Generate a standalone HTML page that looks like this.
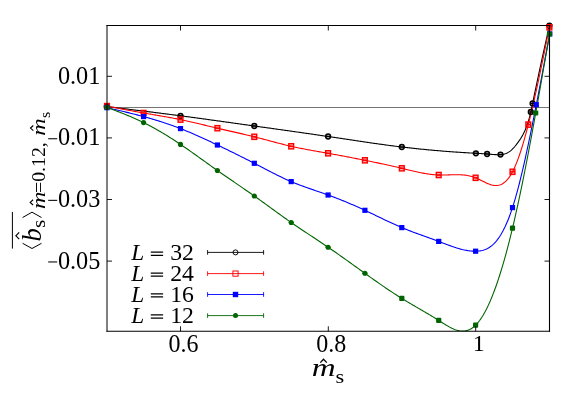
<!DOCTYPE html>
<html><head><meta charset="utf-8"><title>chart</title>
<style>html,body{margin:0;padding:0;background:#fff;}svg{display:block;}text{font-family:"Liberation Serif",serif;fill:#000;}.i{font-style:italic;}</style></head><body>
<svg width="581" height="407" viewBox="0 0 581 407" style="will-change:transform">
<rect x="0" y="0" width="581" height="407" fill="#ffffff"/>
<defs><clipPath id="clip"><rect x="103.00" y="21.50" width="450.50" height="310.10"/></clipPath></defs>
<path d="M107.00,107.50 H549.50" stroke="#000" stroke-width="0.55" fill="none"/>
<g clip-path="url(#clip)" fill="none">
<path d="M106.75,106.60 L107.86,106.73 L108.97,106.87 L110.08,107.00 L111.19,107.14 L112.30,107.27 L113.41,107.41 L114.52,107.54 L115.63,107.68 L116.73,107.81 L117.84,107.95 L118.95,108.08 L120.06,108.21 L121.17,108.35 L122.28,108.48 L123.39,108.62 L124.50,108.75 L125.61,108.89 L126.72,109.03 L127.83,109.16 L128.94,109.30 L130.05,109.43 L131.16,109.57 L132.27,109.70 L133.38,109.84 L134.48,109.98 L135.59,110.11 L136.70,110.25 L137.81,110.38 L138.92,110.52 L140.03,110.66 L141.14,110.79 L142.25,110.93 L143.36,111.07 L144.47,111.21 L145.58,111.34 L146.69,111.48 L147.80,111.62 L148.91,111.76 L150.02,111.90 L151.13,112.04 L152.24,112.17 L153.34,112.31 L154.45,112.45 L155.56,112.59 L156.67,112.73 L157.78,112.87 L158.89,113.01 L160.00,113.15 L161.11,113.29 L162.22,113.43 L163.33,113.58 L164.44,113.72 L165.55,113.86 L166.66,114.00 L167.77,114.14 L168.88,114.29 L169.99,114.43 L171.10,114.57 L172.20,114.72 L173.31,114.86 L174.42,115.00 L175.53,115.15 L176.64,115.29 L177.75,115.44 L178.86,115.58 L179.97,115.73 L181.08,115.88 L182.19,116.02 L183.30,116.17 L184.41,116.32 L185.52,116.47 L186.63,116.61 L187.74,116.76 L188.85,116.91 L189.95,117.06 L191.06,117.21 L192.17,117.36 L193.28,117.51 L194.39,117.66 L195.50,117.81 L196.61,117.96 L197.72,118.11 L198.83,118.26 L199.94,118.41 L201.05,118.56 L202.16,118.72 L203.27,118.87 L204.38,119.02 L205.49,119.17 L206.60,119.32 L207.71,119.48 L208.81,119.63 L209.92,119.78 L211.03,119.94 L212.14,120.09 L213.25,120.25 L214.36,120.40 L215.47,120.55 L216.58,120.71 L217.69,120.86 L218.80,121.02 L219.91,121.17 L221.02,121.33 L222.13,121.48 L223.24,121.64 L224.35,121.79 L225.46,121.95 L226.57,122.10 L227.67,122.26 L228.78,122.41 L229.89,122.57 L231.00,122.73 L232.11,122.88 L233.22,123.04 L234.33,123.19 L235.44,123.35 L236.55,123.50 L237.66,123.66 L238.77,123.82 L239.88,123.97 L240.99,124.13 L242.10,124.29 L243.21,124.44 L244.32,124.60 L245.42,124.75 L246.53,124.91 L247.64,125.07 L248.75,125.22 L249.86,125.38 L250.97,125.53 L252.08,125.69 L253.19,125.84 L254.30,126.00 L255.41,126.16 L256.52,126.31 L257.63,126.47 L258.74,126.62 L259.85,126.78 L260.96,126.93 L262.07,127.09 L263.18,127.24 L264.28,127.40 L265.39,127.55 L266.50,127.71 L267.61,127.86 L268.72,128.02 L269.83,128.17 L270.94,128.33 L272.05,128.48 L273.16,128.64 L274.27,128.80 L275.38,128.95 L276.49,129.11 L277.60,129.26 L278.71,129.42 L279.82,129.57 L280.93,129.73 L282.03,129.88 L283.14,130.04 L284.25,130.20 L285.36,130.35 L286.47,130.51 L287.58,130.66 L288.69,130.82 L289.80,130.98 L290.91,131.13 L292.02,131.29 L293.13,131.45 L294.24,131.60 L295.35,131.76 L296.46,131.92 L297.57,132.08 L298.68,132.23 L299.79,132.39 L300.89,132.55 L302.00,132.71 L303.11,132.87 L304.22,133.02 L305.33,133.18 L306.44,133.34 L307.55,133.50 L308.66,133.66 L309.77,133.82 L310.88,133.98 L311.99,134.14 L313.10,134.30 L314.21,134.46 L315.32,134.62 L316.43,134.78 L317.54,134.95 L318.65,135.11 L319.75,135.27 L320.86,135.43 L321.97,135.60 L323.08,135.76 L324.19,135.92 L325.30,136.09 L326.41,136.25 L327.52,136.41 L328.63,136.58 L329.74,136.74 L330.85,136.91 L331.96,137.07 L333.07,137.24 L334.18,137.41 L335.29,137.57 L336.40,137.74 L337.50,137.91 L338.61,138.07 L339.72,138.24 L340.83,138.41 L341.94,138.57 L343.05,138.74 L344.16,138.91 L345.27,139.08 L346.38,139.24 L347.49,139.41 L348.60,139.58 L349.71,139.74 L350.82,139.91 L351.93,140.08 L353.04,140.24 L354.15,140.41 L355.26,140.58 L356.36,140.74 L357.47,140.91 L358.58,141.07 L359.69,141.24 L360.80,141.40 L361.91,141.57 L363.02,141.73 L364.13,141.89 L365.24,142.05 L366.35,142.22 L367.46,142.38 L368.57,142.54 L369.68,142.70 L370.79,142.86 L371.90,143.02 L373.01,143.18 L374.12,143.34 L375.22,143.49 L376.33,143.65 L377.44,143.81 L378.55,143.96 L379.66,144.12 L380.77,144.27 L381.88,144.42 L382.99,144.58 L384.10,144.73 L385.21,144.88 L386.32,145.03 L387.43,145.18 L388.54,145.32 L389.65,145.47 L390.76,145.61 L391.87,145.76 L392.97,145.90 L394.08,146.04 L395.19,146.18 L396.30,146.32 L397.41,146.46 L398.52,146.60 L399.63,146.74 L400.74,146.87 L401.85,147.01 L402.96,147.14 L404.07,147.27 L405.18,147.40 L406.29,147.53 L407.40,147.66 L408.51,147.78 L409.62,147.91 L410.73,148.03 L411.83,148.15 L412.94,148.27 L414.05,148.39 L415.16,148.51 L416.27,148.63 L417.38,148.74 L418.49,148.86 L419.60,148.97 L420.71,149.09 L421.82,149.20 L422.93,149.31 L424.04,149.42 L425.15,149.52 L426.26,149.63 L427.37,149.74 L428.48,149.84 L429.58,149.94 L430.69,150.05 L431.80,150.15 L432.91,150.25 L434.02,150.34 L435.13,150.44 L436.24,150.54 L437.35,150.63 L438.46,150.73 L439.57,150.82 L440.68,150.91 L441.79,151.00 L442.90,151.09 L444.01,151.18 L445.12,151.27 L446.23,151.36 L447.34,151.44 L448.44,151.53 L449.55,151.61 L450.66,151.69 L451.77,151.77 L452.88,151.85 L453.99,151.93 L455.10,152.01 L456.21,152.09 L457.32,152.16 L458.43,152.24 L459.54,152.31 L460.65,152.39 L461.76,152.46 L462.87,152.53 L463.98,152.60 L465.09,152.67 L466.20,152.74 L467.30,152.81 L468.41,152.87 L469.52,152.94 L470.63,153.00 L471.74,153.07 L472.85,153.13 L473.96,153.19 L475.07,153.25 L476.18,153.32 L477.29,153.37 L478.40,153.43 L479.51,153.50 L480.62,153.56 L481.73,153.62 L482.84,153.69 L483.95,153.76 L485.05,153.84 L486.16,153.92 L487.27,154.01 L488.38,154.11 L489.49,154.21 L490.60,154.31 L491.71,154.40 L492.82,154.49 L493.93,154.57 L495.04,154.63 L496.15,154.67 L497.26,154.69 L498.37,154.69 L499.48,154.66 L500.59,154.59 L501.70,154.49 L502.81,154.34 L503.91,154.12 L505.02,153.83 L506.13,153.46 L507.24,152.98 L508.35,152.39 L509.46,151.67 L510.57,150.82 L511.68,149.84 L512.79,148.73 L513.90,147.53 L515.01,146.24 L516.12,144.87 L517.23,143.43 L518.34,141.94 L519.45,140.37 L520.56,138.69 L521.67,136.89 L522.77,134.92 L523.88,132.78 L524.99,130.43 L526.10,127.81 L527.21,124.86 L528.32,121.49 L529.43,117.61 L530.54,113.14 L531.65,108.05 L532.76,102.62 L533.87,97.21 L534.98,91.85 L536.09,86.55 L537.20,81.29 L538.31,76.09 L539.42,70.92 L540.52,65.79 L541.63,60.70 L542.74,55.63 L543.85,50.59 L544.96,45.56 L546.07,40.56 L547.18,35.57 L548.29,30.58 L549.40,25.60" stroke="#000000" stroke-width="1.1" fill="none"/>
<path d="M107.00,106.10 L108.11,106.32 L109.22,106.53 L110.33,106.75 L111.44,106.97 L112.54,107.18 L113.65,107.40 L114.76,107.61 L115.87,107.83 L116.98,108.04 L118.09,108.26 L119.20,108.47 L120.31,108.69 L121.41,108.90 L122.52,109.11 L123.63,109.32 L124.74,109.54 L125.85,109.75 L126.96,109.96 L128.07,110.17 L129.18,110.37 L130.28,110.58 L131.39,110.79 L132.50,111.00 L133.61,111.20 L134.72,111.40 L135.83,111.61 L136.94,111.81 L138.05,112.01 L139.15,112.21 L140.26,112.41 L141.37,112.61 L142.48,112.80 L143.59,113.00 L144.70,113.19 L145.81,113.38 L146.92,113.58 L148.02,113.77 L149.13,113.96 L150.24,114.14 L151.35,114.33 L152.46,114.52 L153.57,114.71 L154.68,114.90 L155.79,115.09 L156.89,115.27 L158.00,115.46 L159.11,115.65 L160.22,115.84 L161.33,116.03 L162.44,116.22 L163.55,116.42 L164.66,116.61 L165.76,116.80 L166.87,117.00 L167.98,117.20 L169.09,117.40 L170.20,117.60 L171.31,117.81 L172.42,118.01 L173.53,118.22 L174.64,118.43 L175.74,118.65 L176.85,118.86 L177.96,119.08 L179.07,119.31 L180.18,119.53 L181.29,119.76 L182.40,120.00 L183.51,120.23 L184.61,120.47 L185.72,120.71 L186.83,120.96 L187.94,121.21 L189.05,121.46 L190.16,121.71 L191.27,121.96 L192.38,122.22 L193.48,122.48 L194.59,122.73 L195.70,123.00 L196.81,123.26 L197.92,123.52 L199.03,123.79 L200.14,124.05 L201.25,124.32 L202.35,124.59 L203.46,124.85 L204.57,125.12 L205.68,125.39 L206.79,125.66 L207.90,125.93 L209.01,126.20 L210.12,126.46 L211.22,126.73 L212.33,127.00 L213.44,127.26 L214.55,127.53 L215.66,127.79 L216.77,128.05 L217.88,128.31 L218.99,128.57 L220.09,128.83 L221.20,129.09 L222.31,129.34 L223.42,129.60 L224.53,129.85 L225.64,130.10 L226.75,130.35 L227.86,130.61 L228.96,130.86 L230.07,131.11 L231.18,131.36 L232.29,131.61 L233.40,131.86 L234.51,132.12 L235.62,132.37 L236.73,132.62 L237.84,132.87 L238.94,133.13 L240.05,133.38 L241.16,133.64 L242.27,133.90 L243.38,134.16 L244.49,134.42 L245.60,134.68 L246.71,134.94 L247.81,135.21 L248.92,135.47 L250.03,135.74 L251.14,136.01 L252.25,136.29 L253.36,136.56 L254.47,136.84 L255.58,137.12 L256.68,137.41 L257.79,137.69 L258.90,137.98 L260.01,138.27 L261.12,138.56 L262.23,138.85 L263.34,139.15 L264.45,139.44 L265.55,139.74 L266.66,140.04 L267.77,140.33 L268.88,140.63 L269.99,140.93 L271.10,141.22 L272.21,141.52 L273.32,141.81 L274.42,142.11 L275.53,142.40 L276.64,142.69 L277.75,142.98 L278.86,143.27 L279.97,143.56 L281.08,143.84 L282.19,144.12 L283.29,144.40 L284.40,144.68 L285.51,144.95 L286.62,145.22 L287.73,145.49 L288.84,145.75 L289.95,146.01 L291.06,146.27 L292.16,146.52 L293.27,146.77 L294.38,147.01 L295.49,147.25 L296.60,147.48 L297.71,147.71 L298.82,147.94 L299.93,148.17 L301.04,148.39 L302.14,148.61 L303.25,148.83 L304.36,149.04 L305.47,149.25 L306.58,149.46 L307.69,149.67 L308.80,149.87 L309.91,150.08 L311.01,150.28 L312.12,150.48 L313.23,150.68 L314.34,150.88 L315.45,151.07 L316.56,151.27 L317.67,151.47 L318.78,151.66 L319.88,151.85 L320.99,152.05 L322.10,152.24 L323.21,152.44 L324.32,152.63 L325.43,152.83 L326.54,153.02 L327.65,153.22 L328.75,153.42 L329.86,153.61 L330.97,153.81 L332.08,154.01 L333.19,154.21 L334.30,154.42 L335.41,154.62 L336.52,154.82 L337.62,155.03 L338.73,155.23 L339.84,155.44 L340.95,155.65 L342.06,155.85 L343.17,156.06 L344.28,156.27 L345.39,156.48 L346.49,156.69 L347.60,156.91 L348.71,157.12 L349.82,157.33 L350.93,157.55 L352.04,157.76 L353.15,157.98 L354.26,158.19 L355.36,158.41 L356.47,158.63 L357.58,158.84 L358.69,159.06 L359.80,159.28 L360.91,159.50 L362.02,159.72 L363.13,159.94 L364.24,160.17 L365.34,160.39 L366.45,160.61 L367.56,160.84 L368.67,161.06 L369.78,161.29 L370.89,161.51 L372.00,161.74 L373.11,161.97 L374.21,162.19 L375.32,162.42 L376.43,162.65 L377.54,162.89 L378.65,163.12 L379.76,163.35 L380.87,163.59 L381.98,163.82 L383.08,164.06 L384.19,164.30 L385.30,164.54 L386.41,164.78 L387.52,165.02 L388.63,165.27 L389.74,165.51 L390.85,165.76 L391.95,166.01 L393.06,166.26 L394.17,166.51 L395.28,166.77 L396.39,167.02 L397.50,167.28 L398.61,167.54 L399.72,167.80 L400.82,168.07 L401.93,168.33 L403.04,168.60 L404.15,168.87 L405.26,169.14 L406.37,169.41 L407.48,169.68 L408.59,169.95 L409.69,170.22 L410.80,170.49 L411.91,170.75 L413.02,171.01 L414.13,171.27 L415.24,171.52 L416.35,171.77 L417.46,172.02 L418.56,172.26 L419.67,172.49 L420.78,172.72 L421.89,172.94 L423.00,173.15 L424.11,173.35 L425.22,173.54 L426.33,173.73 L427.44,173.91 L428.54,174.07 L429.65,174.22 L430.76,174.37 L431.87,174.50 L432.98,174.61 L434.09,174.72 L435.20,174.81 L436.31,174.89 L437.41,174.95 L438.52,174.99 L439.63,175.02 L440.74,175.04 L441.85,175.04 L442.96,175.04 L444.07,175.02 L445.18,175.00 L446.28,174.97 L447.39,174.93 L448.50,174.89 L449.61,174.85 L450.72,174.82 L451.83,174.78 L452.94,174.75 L454.05,174.72 L455.15,174.71 L456.26,174.70 L457.37,174.70 L458.48,174.72 L459.59,174.74 L460.70,174.79 L461.81,174.85 L462.92,174.94 L464.02,175.04 L465.13,175.17 L466.24,175.32 L467.35,175.49 L468.46,175.70 L469.57,175.93 L470.68,176.20 L471.79,176.50 L472.89,176.83 L474.00,177.20 L475.11,177.61 L476.22,178.06 L477.33,178.54 L478.44,179.05 L479.55,179.59 L480.66,180.14 L481.76,180.70 L482.87,181.26 L483.98,181.82 L485.09,182.36 L486.20,182.88 L487.31,183.38 L488.42,183.84 L489.53,184.26 L490.64,184.63 L491.74,184.95 L492.85,185.21 L493.96,185.40 L495.07,185.51 L496.18,185.54 L497.29,185.47 L498.40,185.32 L499.51,185.05 L500.61,184.68 L501.72,184.19 L502.83,183.57 L503.94,182.82 L505.05,181.93 L506.16,180.89 L507.27,179.70 L508.38,178.35 L509.48,176.83 L510.59,175.14 L511.70,173.27 L512.81,171.20 L513.92,168.95 L515.03,166.51 L516.14,163.88 L517.25,161.08 L518.35,158.11 L519.46,154.97 L520.57,151.67 L521.68,148.21 L522.79,144.60 L523.90,140.85 L525.01,136.95 L526.12,132.92 L527.22,128.76 L528.33,124.47 L529.44,120.06 L530.55,115.54 L531.66,110.90 L532.77,106.17 L533.88,101.34 L534.99,96.43 L536.09,91.43 L537.20,86.35 L538.31,81.20 L539.42,75.99 L540.53,70.73 L541.64,65.41 L542.75,60.05 L543.86,54.65 L544.96,49.22 L546.07,43.76 L547.18,38.28 L548.29,32.80 L549.40,27.30" stroke="#ff0000" stroke-width="1.1" fill="none"/>
<path d="M107.00,107.70 L108.11,107.95 L109.22,108.21 L110.33,108.46 L111.44,108.72 L112.55,108.97 L113.66,109.23 L114.77,109.48 L115.88,109.74 L116.99,110.00 L118.10,110.26 L119.21,110.51 L120.32,110.77 L121.43,111.04 L122.54,111.30 L123.65,111.56 L124.76,111.83 L125.87,112.09 L126.98,112.36 L128.09,112.63 L129.20,112.90 L130.31,113.17 L131.42,113.45 L132.52,113.72 L133.63,114.00 L134.74,114.28 L135.85,114.56 L136.96,114.85 L138.07,115.13 L139.18,115.42 L140.29,115.71 L141.40,116.01 L142.51,116.31 L143.62,116.61 L144.73,116.91 L145.84,117.21 L146.95,117.52 L148.06,117.84 L149.17,118.15 L150.28,118.47 L151.39,118.79 L152.50,119.11 L153.61,119.44 L154.72,119.77 L155.83,120.11 L156.94,120.45 L158.05,120.79 L159.16,121.14 L160.27,121.49 L161.38,121.84 L162.49,122.20 L163.60,122.56 L164.71,122.92 L165.82,123.29 L166.93,123.67 L168.04,124.04 L169.15,124.43 L170.26,124.81 L171.37,125.20 L172.48,125.60 L173.59,126.00 L174.70,126.41 L175.81,126.81 L176.92,127.23 L178.03,127.65 L179.14,128.07 L180.25,128.50 L181.35,128.93 L182.46,129.37 L183.57,129.82 L184.68,130.27 L185.79,130.72 L186.90,131.18 L188.01,131.64 L189.12,132.10 L190.23,132.57 L191.34,133.05 L192.45,133.53 L193.56,134.01 L194.67,134.49 L195.78,134.98 L196.89,135.47 L198.00,135.97 L199.11,136.46 L200.22,136.97 L201.33,137.47 L202.44,137.98 L203.55,138.48 L204.66,139.00 L205.77,139.51 L206.88,140.03 L207.99,140.54 L209.10,141.06 L210.21,141.58 L211.32,142.11 L212.43,142.63 L213.54,143.16 L214.65,143.69 L215.76,144.22 L216.87,144.75 L217.98,145.28 L219.09,145.81 L220.20,146.34 L221.31,146.87 L222.42,147.41 L223.53,147.94 L224.64,148.48 L225.75,149.02 L226.86,149.56 L227.97,150.10 L229.08,150.64 L230.18,151.18 L231.29,151.72 L232.40,152.27 L233.51,152.81 L234.62,153.36 L235.73,153.91 L236.84,154.46 L237.95,155.01 L239.06,155.56 L240.17,156.12 L241.28,156.67 L242.39,157.23 L243.50,157.79 L244.61,158.34 L245.72,158.91 L246.83,159.47 L247.94,160.03 L249.05,160.60 L250.16,161.17 L251.27,161.74 L252.38,162.31 L253.49,162.88 L254.60,163.46 L255.71,164.03 L256.82,164.61 L257.93,165.19 L259.04,165.77 L260.15,166.35 L261.26,166.93 L262.37,167.51 L263.48,168.09 L264.59,168.67 L265.70,169.25 L266.81,169.82 L267.92,170.40 L269.03,170.97 L270.14,171.55 L271.25,172.12 L272.36,172.68 L273.47,173.25 L274.58,173.81 L275.69,174.36 L276.80,174.92 L277.91,175.46 L279.02,176.01 L280.12,176.55 L281.23,177.08 L282.34,177.61 L283.45,178.13 L284.56,178.65 L285.67,179.16 L286.78,179.66 L287.89,180.16 L289.00,180.65 L290.11,181.13 L291.22,181.61 L292.33,182.08 L293.44,182.54 L294.55,182.99 L295.66,183.43 L296.77,183.87 L297.88,184.30 L298.99,184.73 L300.10,185.15 L301.21,185.57 L302.32,185.98 L303.43,186.38 L304.54,186.78 L305.65,187.18 L306.76,187.58 L307.87,187.97 L308.98,188.36 L310.09,188.74 L311.20,189.13 L312.31,189.51 L313.42,189.89 L314.53,190.28 L315.64,190.66 L316.75,191.04 L317.86,191.42 L318.97,191.80 L320.08,192.18 L321.19,192.56 L322.30,192.95 L323.41,193.33 L324.52,193.72 L325.63,194.12 L326.74,194.51 L327.85,194.91 L328.95,195.31 L330.06,195.72 L331.17,196.12 L332.28,196.54 L333.39,196.95 L334.50,197.38 L335.61,197.80 L336.72,198.23 L337.83,198.66 L338.94,199.10 L340.05,199.53 L341.16,199.98 L342.27,200.42 L343.38,200.87 L344.49,201.33 L345.60,201.79 L346.71,202.25 L347.82,202.71 L348.93,203.18 L350.04,203.65 L351.15,204.13 L352.26,204.60 L353.37,205.09 L354.48,205.57 L355.59,206.06 L356.70,206.55 L357.81,207.05 L358.92,207.55 L360.03,208.05 L361.14,208.56 L362.25,209.07 L363.36,209.58 L364.47,210.10 L365.58,210.62 L366.69,211.14 L367.80,211.67 L368.91,212.19 L370.02,212.72 L371.13,213.26 L372.24,213.79 L373.35,214.33 L374.46,214.86 L375.57,215.40 L376.68,215.94 L377.78,216.48 L378.89,217.01 L380.00,217.55 L381.11,218.09 L382.22,218.62 L383.33,219.16 L384.44,219.69 L385.55,220.22 L386.66,220.75 L387.77,221.28 L388.88,221.80 L389.99,222.32 L391.10,222.84 L392.21,223.36 L393.32,223.87 L394.43,224.37 L395.54,224.87 L396.65,225.37 L397.76,225.86 L398.87,226.35 L399.98,226.83 L401.09,227.30 L402.20,227.77 L403.31,228.23 L404.42,228.68 L405.53,229.13 L406.64,229.58 L407.75,230.02 L408.86,230.45 L409.97,230.88 L411.08,231.31 L412.19,231.73 L413.30,232.15 L414.41,232.56 L415.52,232.97 L416.63,233.38 L417.74,233.79 L418.85,234.19 L419.96,234.59 L421.07,235.00 L422.18,235.39 L423.29,235.79 L424.40,236.19 L425.51,236.59 L426.62,236.99 L427.72,237.38 L428.83,237.78 L429.94,238.18 L431.05,238.58 L432.16,238.99 L433.27,239.39 L434.38,239.80 L435.49,240.20 L436.60,240.61 L437.71,241.03 L438.82,241.45 L439.93,241.87 L441.04,242.29 L442.15,242.71 L443.26,243.14 L444.37,243.56 L445.48,243.99 L446.59,244.41 L447.70,244.82 L448.81,245.24 L449.92,245.64 L451.03,246.04 L452.14,246.44 L453.25,246.82 L454.36,247.20 L455.47,247.56 L456.58,247.92 L457.69,248.26 L458.80,248.58 L459.91,248.90 L461.02,249.19 L462.13,249.47 L463.24,249.74 L464.35,249.98 L465.46,250.21 L466.57,250.41 L467.68,250.60 L468.79,250.76 L469.90,250.90 L471.01,251.01 L472.12,251.10 L473.23,251.16 L474.34,251.20 L475.45,251.20 L476.55,251.18 L477.66,251.12 L478.77,251.03 L479.88,250.89 L480.99,250.71 L482.10,250.47 L483.21,250.18 L484.32,249.84 L485.43,249.42 L486.54,248.94 L487.65,248.39 L488.76,247.76 L489.87,247.04 L490.98,246.25 L492.09,245.36 L493.20,244.37 L494.31,243.29 L495.42,242.11 L496.53,240.81 L497.64,239.41 L498.75,237.88 L499.86,236.24 L500.97,234.47 L502.08,232.57 L503.19,230.54 L504.30,228.37 L505.41,226.05 L506.52,223.59 L507.63,220.98 L508.74,218.21 L509.85,215.28 L510.96,212.18 L512.07,208.92 L513.18,205.48 L514.29,201.87 L515.40,198.10 L516.51,194.17 L517.62,190.08 L518.73,185.85 L519.84,181.49 L520.95,176.99 L522.06,172.36 L523.17,167.62 L524.28,162.76 L525.38,157.79 L526.49,152.73 L527.60,147.58 L528.71,142.33 L529.82,137.01 L530.93,131.62 L532.04,126.15 L533.15,120.63 L534.26,115.05 L535.37,109.43 L536.48,103.76 L537.59,98.07 L538.70,92.33 L539.81,86.57 L540.92,80.79 L542.03,74.98 L543.14,69.15 L544.25,63.30 L545.36,57.44 L546.47,51.56 L547.58,45.68 L548.69,39.79 L549.80,33.90" stroke="#0000ff" stroke-width="1.1" fill="none"/>
<path d="M107.00,107.40 L108.11,107.82 L109.22,108.24 L110.33,108.66 L111.44,109.08 L112.55,109.50 L113.65,109.92 L114.76,110.34 L115.87,110.77 L116.98,111.19 L118.09,111.62 L119.20,112.05 L120.31,112.49 L121.42,112.92 L122.53,113.36 L123.64,113.81 L124.74,114.25 L125.85,114.70 L126.96,115.16 L128.07,115.62 L129.18,116.08 L130.29,116.55 L131.40,117.02 L132.51,117.50 L133.62,117.98 L134.73,118.47 L135.83,118.96 L136.94,119.46 L138.05,119.97 L139.16,120.48 L140.27,121.00 L141.38,121.52 L142.49,122.06 L143.60,122.60 L144.71,123.15 L145.82,123.70 L146.92,124.27 L148.03,124.84 L149.14,125.42 L150.25,126.00 L151.36,126.59 L152.47,127.19 L153.58,127.80 L154.69,128.41 L155.80,129.03 L156.91,129.66 L158.02,130.29 L159.12,130.93 L160.23,131.58 L161.34,132.23 L162.45,132.89 L163.56,133.56 L164.67,134.23 L165.78,134.90 L166.89,135.59 L168.00,136.27 L169.11,136.97 L170.21,137.67 L171.32,138.37 L172.43,139.08 L173.54,139.80 L174.65,140.52 L175.76,141.24 L176.87,141.97 L177.98,142.71 L179.09,143.45 L180.20,144.19 L181.30,144.94 L182.41,145.70 L183.52,146.46 L184.63,147.22 L185.74,147.98 L186.85,148.75 L187.96,149.53 L189.07,150.30 L190.18,151.08 L191.29,151.86 L192.39,152.65 L193.50,153.43 L194.61,154.22 L195.72,155.01 L196.83,155.80 L197.94,156.60 L199.05,157.39 L200.16,158.19 L201.27,158.98 L202.38,159.78 L203.48,160.57 L204.59,161.37 L205.70,162.17 L206.81,162.96 L207.92,163.76 L209.03,164.55 L210.14,165.35 L211.25,166.14 L212.36,166.93 L213.47,167.72 L214.58,168.51 L215.68,169.29 L216.79,170.07 L217.90,170.85 L219.01,171.63 L220.12,172.40 L221.23,173.18 L222.34,173.95 L223.45,174.72 L224.56,175.48 L225.67,176.25 L226.77,177.01 L227.88,177.77 L228.99,178.53 L230.10,179.30 L231.21,180.05 L232.32,180.81 L233.43,181.57 L234.54,182.33 L235.65,183.09 L236.76,183.85 L237.86,184.61 L238.97,185.37 L240.08,186.13 L241.19,186.89 L242.30,187.65 L243.41,188.41 L244.52,189.18 L245.63,189.94 L246.74,190.71 L247.85,191.48 L248.95,192.25 L250.06,193.02 L251.17,193.80 L252.28,194.58 L253.39,195.36 L254.50,196.14 L255.61,196.93 L256.72,197.72 L257.83,198.51 L258.94,199.31 L260.05,200.10 L261.15,200.90 L262.26,201.70 L263.37,202.50 L264.48,203.31 L265.59,204.11 L266.70,204.92 L267.81,205.72 L268.92,206.53 L270.03,207.34 L271.14,208.14 L272.24,208.95 L273.35,209.76 L274.46,210.56 L275.57,211.37 L276.68,212.17 L277.79,212.97 L278.90,213.77 L280.01,214.57 L281.12,215.37 L282.23,216.17 L283.33,216.96 L284.44,217.75 L285.55,218.54 L286.66,219.32 L287.77,220.10 L288.88,220.88 L289.99,221.66 L291.10,222.43 L292.21,223.20 L293.32,223.96 L294.42,224.72 L295.53,225.48 L296.64,226.23 L297.75,226.98 L298.86,227.73 L299.97,228.47 L301.08,229.22 L302.19,229.96 L303.30,230.70 L304.41,231.43 L305.52,232.17 L306.62,232.90 L307.73,233.64 L308.84,234.37 L309.95,235.10 L311.06,235.84 L312.17,236.57 L313.28,237.30 L314.39,238.03 L315.50,238.77 L316.61,239.50 L317.71,240.23 L318.82,240.97 L319.93,241.71 L321.04,242.45 L322.15,243.19 L323.26,243.93 L324.37,244.67 L325.48,245.42 L326.59,246.17 L327.70,246.92 L328.80,247.68 L329.91,248.44 L331.02,249.20 L332.13,249.97 L333.24,250.74 L334.35,251.51 L335.46,252.28 L336.57,253.05 L337.68,253.83 L338.79,254.61 L339.89,255.39 L341.00,256.18 L342.11,256.96 L343.22,257.75 L344.33,258.54 L345.44,259.33 L346.55,260.12 L347.66,260.91 L348.77,261.71 L349.88,262.50 L350.98,263.30 L352.09,264.09 L353.20,264.89 L354.31,265.69 L355.42,266.49 L356.53,267.28 L357.64,268.08 L358.75,268.88 L359.86,269.68 L360.97,270.48 L362.08,271.27 L363.18,272.07 L364.29,272.86 L365.40,273.66 L366.51,274.45 L367.62,275.25 L368.73,276.04 L369.84,276.83 L370.95,277.62 L372.06,278.41 L373.17,279.19 L374.27,279.98 L375.38,280.76 L376.49,281.54 L377.60,282.32 L378.71,283.09 L379.82,283.86 L380.93,284.63 L382.04,285.40 L383.15,286.16 L384.26,286.92 L385.36,287.68 L386.47,288.43 L387.58,289.18 L388.69,289.93 L389.80,290.67 L390.91,291.41 L392.02,292.14 L393.13,292.87 L394.24,293.59 L395.35,294.31 L396.45,295.03 L397.56,295.74 L398.67,296.44 L399.78,297.14 L400.89,297.84 L402.00,298.52 L403.11,299.21 L404.22,299.88 L405.33,300.56 L406.44,301.23 L407.55,301.89 L408.65,302.55 L409.76,303.21 L410.87,303.86 L411.98,304.51 L413.09,305.16 L414.20,305.81 L415.31,306.45 L416.42,307.10 L417.53,307.74 L418.64,308.39 L419.74,309.03 L420.85,309.67 L421.96,310.32 L423.07,310.96 L424.18,311.61 L425.29,312.26 L426.40,312.91 L427.51,313.57 L428.62,314.22 L429.73,314.88 L430.83,315.55 L431.94,316.22 L433.05,316.89 L434.16,317.57 L435.27,318.25 L436.38,318.94 L437.49,319.63 L438.60,320.34 L439.71,321.04 L440.82,321.75 L441.92,322.46 L443.03,323.17 L444.14,323.87 L445.25,324.56 L446.36,325.23 L447.47,325.89 L448.58,326.52 L449.69,327.13 L450.80,327.70 L451.91,328.25 L453.02,328.76 L454.12,329.23 L455.23,329.65 L456.34,330.03 L457.45,330.35 L458.56,330.62 L459.67,330.83 L460.78,330.98 L461.89,331.06 L463.00,331.08 L464.11,331.02 L465.21,330.88 L466.32,330.66 L467.43,330.36 L468.54,329.97 L469.65,329.49 L470.76,328.92 L471.87,328.24 L472.98,327.47 L474.09,326.58 L475.20,325.59 L476.30,324.48 L477.41,323.26 L478.52,321.93 L479.63,320.48 L480.74,318.92 L481.85,317.25 L482.96,315.46 L484.07,313.56 L485.18,311.56 L486.29,309.44 L487.39,307.21 L488.50,304.87 L489.61,302.42 L490.72,299.86 L491.83,297.19 L492.94,294.42 L494.05,291.54 L495.16,288.55 L496.27,285.45 L497.38,282.25 L498.48,278.94 L499.59,275.53 L500.70,272.01 L501.81,268.38 L502.92,264.66 L504.03,260.83 L505.14,256.89 L506.25,252.85 L507.36,248.72 L508.47,244.48 L509.58,240.13 L510.68,235.69 L511.79,231.15 L512.90,226.50 L514.01,221.76 L515.12,216.92 L516.23,211.99 L517.34,206.97 L518.45,201.86 L519.56,196.67 L520.67,191.39 L521.77,186.03 L522.88,180.59 L523.99,175.08 L525.10,169.50 L526.21,163.84 L527.32,158.12 L528.43,152.34 L529.54,146.49 L530.65,140.59 L531.76,134.62 L532.86,128.61 L533.97,122.54 L535.08,116.42 L536.19,110.26 L537.30,104.06 L538.41,97.81 L539.52,91.53 L540.63,85.22 L541.74,78.88 L542.85,72.52 L543.95,66.13 L545.06,59.73 L546.17,53.31 L547.28,46.88 L548.39,40.44 L549.50,34.00" stroke="#006400" stroke-width="1.1" fill="none"/>
</g>
<g>
<circle cx="106.75" cy="106.60" r="2.4" fill="#000" fill-opacity="0.25" stroke="#000000" stroke-width="1.5"/><path d="M104.25,106.60 h5" stroke="#000000" stroke-width="1.2"/>
<circle cx="180.50" cy="115.80" r="2.4" fill="#000" fill-opacity="0.25" stroke="#000000" stroke-width="1.5"/><path d="M178.00,115.80 h5" stroke="#000000" stroke-width="1.2"/>
<circle cx="254.30" cy="126.00" r="2.4" fill="#000" fill-opacity="0.25" stroke="#000000" stroke-width="1.5"/><path d="M251.80,126.00 h5" stroke="#000000" stroke-width="1.2"/>
<circle cx="328.10" cy="136.50" r="2.4" fill="#000" fill-opacity="0.25" stroke="#000000" stroke-width="1.5"/><path d="M325.60,136.50 h5" stroke="#000000" stroke-width="1.2"/>
<circle cx="401.80" cy="147.00" r="2.4" fill="#000" fill-opacity="0.25" stroke="#000000" stroke-width="1.5"/><path d="M399.30,147.00 h5" stroke="#000000" stroke-width="1.2"/>
<circle cx="475.90" cy="153.30" r="2.4" fill="#000" fill-opacity="0.25" stroke="#000000" stroke-width="1.5"/><path d="M473.40,153.30 h5" stroke="#000000" stroke-width="1.2"/>
<circle cx="487.10" cy="154.00" r="2.4" fill="#000" fill-opacity="0.25" stroke="#000000" stroke-width="1.5"/><path d="M484.60,154.00 h5" stroke="#000000" stroke-width="1.2"/>
<circle cx="500.50" cy="154.60" r="2.4" fill="#000" fill-opacity="0.25" stroke="#000000" stroke-width="1.5"/><path d="M498.00,154.60 h5" stroke="#000000" stroke-width="1.2"/>
<circle cx="530.80" cy="112.00" r="2.4" fill="#000" fill-opacity="0.25" stroke="#000000" stroke-width="1.5"/><path d="M528.30,112.00 h5" stroke="#000000" stroke-width="1.2"/>
<circle cx="532.60" cy="103.40" r="2.4" fill="#000" fill-opacity="0.25" stroke="#000000" stroke-width="1.5"/><path d="M530.10,103.40 h5" stroke="#000000" stroke-width="1.2"/>
<circle cx="549.40" cy="25.60" r="2.4" fill="#000" fill-opacity="0.25" stroke="#000000" stroke-width="1.5"/><path d="M546.90,25.60 h5" stroke="#000000" stroke-width="1.2"/>
</g>
<g>
<rect x="104.60" y="103.50" width="4.8" height="5.2" fill="#ff0000" fill-opacity="0.3" stroke="#ff0000" stroke-width="1.4"/><path d="M104.50,106.10 h5" stroke="#ff0000" stroke-width="1.4"/>
<rect x="141.20" y="110.40" width="4.8" height="5.2" fill="#ff0000" fill-opacity="0.3" stroke="#ff0000" stroke-width="1.4"/><path d="M141.10,113.00 h5" stroke="#ff0000" stroke-width="1.4"/>
<rect x="178.10" y="117.00" width="4.8" height="5.2" fill="#ff0000" fill-opacity="0.3" stroke="#ff0000" stroke-width="1.4"/><path d="M178.00,119.60 h5" stroke="#ff0000" stroke-width="1.4"/>
<rect x="215.00" y="125.60" width="4.8" height="5.2" fill="#ff0000" fill-opacity="0.3" stroke="#ff0000" stroke-width="1.4"/><path d="M214.90,128.20 h5" stroke="#ff0000" stroke-width="1.4"/>
<rect x="251.90" y="134.20" width="4.8" height="5.2" fill="#ff0000" fill-opacity="0.3" stroke="#ff0000" stroke-width="1.4"/><path d="M251.80,136.80 h5" stroke="#ff0000" stroke-width="1.4"/>
<rect x="288.80" y="143.70" width="4.8" height="5.2" fill="#ff0000" fill-opacity="0.3" stroke="#ff0000" stroke-width="1.4"/><path d="M288.70,146.30 h5" stroke="#ff0000" stroke-width="1.4"/>
<rect x="325.70" y="150.70" width="4.8" height="5.2" fill="#ff0000" fill-opacity="0.3" stroke="#ff0000" stroke-width="1.4"/><path d="M325.60,153.30 h5" stroke="#ff0000" stroke-width="1.4"/>
<rect x="362.50" y="157.70" width="4.8" height="5.2" fill="#ff0000" fill-opacity="0.3" stroke="#ff0000" stroke-width="1.4"/><path d="M362.40,160.30 h5" stroke="#ff0000" stroke-width="1.4"/>
<rect x="399.40" y="165.70" width="4.8" height="5.2" fill="#ff0000" fill-opacity="0.3" stroke="#ff0000" stroke-width="1.4"/><path d="M399.30,168.30 h5" stroke="#ff0000" stroke-width="1.4"/>
<rect x="436.30" y="172.40" width="4.8" height="5.2" fill="#ff0000" fill-opacity="0.3" stroke="#ff0000" stroke-width="1.4"/><path d="M436.20,175.00 h5" stroke="#ff0000" stroke-width="1.4"/>
<rect x="473.20" y="175.20" width="4.8" height="5.2" fill="#ff0000" fill-opacity="0.3" stroke="#ff0000" stroke-width="1.4"/><path d="M473.10,177.80 h5" stroke="#ff0000" stroke-width="1.4"/>
<rect x="510.10" y="169.20" width="4.8" height="5.2" fill="#ff0000" fill-opacity="0.3" stroke="#ff0000" stroke-width="1.4"/><path d="M510.00,171.80 h5" stroke="#ff0000" stroke-width="1.4"/>
<rect x="525.90" y="122.00" width="4.8" height="5.2" fill="#ff0000" fill-opacity="0.3" stroke="#ff0000" stroke-width="1.4"/><path d="M525.80,124.60 h5" stroke="#ff0000" stroke-width="1.4"/>
<rect x="547.00" y="24.70" width="4.8" height="5.2" fill="#ff0000" fill-opacity="0.3" stroke="#ff0000" stroke-width="1.4"/><path d="M546.90,27.30 h5" stroke="#ff0000" stroke-width="1.4"/>
</g>
<g>
<rect x="104.40" y="105.10" width="5.2" height="5.2" fill="#0000ff"/>
<rect x="141.00" y="114.00" width="5.2" height="5.2" fill="#0000ff"/>
<rect x="177.90" y="126.00" width="5.2" height="5.2" fill="#0000ff"/>
<rect x="214.80" y="142.40" width="5.2" height="5.2" fill="#0000ff"/>
<rect x="251.70" y="160.70" width="5.2" height="5.2" fill="#0000ff"/>
<rect x="288.60" y="179.00" width="5.2" height="5.2" fill="#0000ff"/>
<rect x="325.50" y="192.40" width="5.2" height="5.2" fill="#0000ff"/>
<rect x="362.30" y="207.70" width="5.2" height="5.2" fill="#0000ff"/>
<rect x="399.20" y="225.00" width="5.2" height="5.2" fill="#0000ff"/>
<rect x="436.10" y="238.80" width="5.2" height="5.2" fill="#0000ff"/>
<rect x="473.00" y="248.60" width="5.2" height="5.2" fill="#0000ff"/>
<rect x="509.90" y="205.00" width="5.2" height="5.2" fill="#0000ff"/>
<rect x="533.70" y="102.10" width="5.2" height="5.2" fill="#0000ff"/>
<rect x="547.20" y="31.30" width="5.2" height="5.2" fill="#0000ff"/>
</g>
<g>
<circle cx="107.00" cy="107.40" r="2.55" fill="#006400"/><path d="M104.50,107.40 h5" stroke="#006400" stroke-width="1.2"/>
<circle cx="143.60" cy="122.60" r="2.55" fill="#006400"/><path d="M141.10,122.60 h5" stroke="#006400" stroke-width="1.2"/>
<circle cx="180.50" cy="144.40" r="2.55" fill="#006400"/><path d="M178.00,144.40 h5" stroke="#006400" stroke-width="1.2"/>
<circle cx="217.40" cy="170.50" r="2.55" fill="#006400"/><path d="M214.90,170.50 h5" stroke="#006400" stroke-width="1.2"/>
<circle cx="254.30" cy="196.00" r="2.55" fill="#006400"/><path d="M251.80,196.00 h5" stroke="#006400" stroke-width="1.2"/>
<circle cx="291.20" cy="222.50" r="2.55" fill="#006400"/><path d="M288.70,222.50 h5" stroke="#006400" stroke-width="1.2"/>
<circle cx="328.10" cy="247.20" r="2.55" fill="#006400"/><path d="M325.60,247.20 h5" stroke="#006400" stroke-width="1.2"/>
<circle cx="364.90" cy="273.30" r="2.55" fill="#006400"/><path d="M362.40,273.30 h5" stroke="#006400" stroke-width="1.2"/>
<rect x="399.20" y="295.80" width="5.2" height="5.2" rx="1" fill="#006400"/>
<rect x="436.10" y="317.80" width="5.2" height="5.2" rx="1" fill="#006400"/>
<rect x="473.00" y="322.60" width="5.2" height="5.2" rx="1" fill="#006400"/>
<rect x="509.90" y="225.60" width="5.2" height="5.2" rx="1" fill="#006400"/>
<rect x="533.10" y="110.40" width="5.2" height="5.2" rx="1" fill="#006400"/>
<rect x="546.90" y="31.40" width="5.2" height="5.2" rx="1" fill="#006400"/>
</g>
<path d="M107.00,25.00 V331.80" stroke="#000" stroke-width="1"/>
<path d="M106.50,25.50 H550.00" stroke="#000" stroke-width="1.1"/>
<path d="M549.50,25.00 V331.80" stroke="#000" stroke-width="1.1"/>
<path d="M106.50,331.30 H550.00" stroke="#000" stroke-width="1.1"/>
<path d="M107.00,76.30 h5 M549.50,76.30 h-5" stroke="#000" stroke-width="0.9"/>
<path d="M107.00,137.90 h5 M549.50,137.90 h-5" stroke="#000" stroke-width="0.9"/>
<path d="M107.00,199.50 h5 M549.50,199.50 h-5" stroke="#000" stroke-width="0.9"/>
<path d="M107.00,261.10 h5 M549.50,261.10 h-5" stroke="#000" stroke-width="0.9"/>
<path d="M180.50,331.30 v-5 M180.50,25.50 v5" stroke="#000" stroke-width="0.9"/>
<path d="M328.30,331.30 v-5 M328.30,25.50 v5" stroke="#000" stroke-width="0.9"/>
<path d="M475.70,331.30 v-5 M475.70,25.50 v5" stroke="#000" stroke-width="0.9"/>
<text transform="translate(100.40,83.80) scale(1.012,1.040)" font-size="24.0" text-anchor="end">0.01</text>
<path d="M48.2,138.75 H57.2" stroke="#000" stroke-width="1.05"/>
<text transform="translate(100.40,145.40) scale(1.012,1.040)" font-size="24.0" text-anchor="end">0.01</text>
<path d="M48.2,200.35 H57.2" stroke="#000" stroke-width="1.05"/>
<text transform="translate(100.40,207.00) scale(1.012,1.040)" font-size="24.0" text-anchor="end">0.03</text>
<path d="M48.2,261.95 H57.2" stroke="#000" stroke-width="1.05"/>
<text transform="translate(100.40,268.60) scale(1.012,1.040)" font-size="24.0" text-anchor="end">0.05</text>
<text transform="translate(183.50,351.50) scale(1.000,1.085)" font-size="24.0" text-anchor="middle">0.6</text>
<text transform="translate(331.30,351.50) scale(1.000,1.085)" font-size="24.0" text-anchor="middle">0.8</text>
<text transform="translate(478.70,350.90) scale(1.000,0.960)" font-size="24.0" text-anchor="middle">1</text>
<text transform="translate(131.30,259.90) scale(0.970,0.970)" font-size="24.0" text-anchor="start" class="i">L</text>
<path d="M150.8,252.20 H163.1 M150.8,255.30 H163.1" stroke="#000" stroke-width="1.25" fill="none"/>
<text transform="translate(194.00,259.90) scale(0.990,0.970)" font-size="24.0" text-anchor="end">32</text>
<path d="M207.6,252.40 H263.6 M207.6,250.10 v4.6 M263.6,250.10 v4.6" stroke="#000000" stroke-width="0.9" fill="none"/>
<circle cx="235.50" cy="252.40" r="2.5" fill="none" stroke="#000000" stroke-width="0.95"/>
<text transform="translate(131.30,280.80) scale(0.970,0.970)" font-size="24.0" text-anchor="start" class="i">L</text>
<path d="M150.8,273.10 H163.1 M150.8,276.20 H163.1" stroke="#000" stroke-width="1.25" fill="none"/>
<text transform="translate(194.00,280.80) scale(0.990,0.970)" font-size="24.0" text-anchor="end">24</text>
<path d="M207.6,273.60 H263.6 M207.6,271.30 v4.6 M263.6,271.30 v4.6" stroke="#ff0000" stroke-width="0.9" fill="none"/>
<rect x="232.90" y="271.00" width="5.2" height="5.2" fill="none" stroke="#ff0000" stroke-width="0.95"/>
<text transform="translate(131.30,301.50) scale(0.970,0.970)" font-size="24.0" text-anchor="start" class="i">L</text>
<path d="M150.8,293.80 H163.1 M150.8,296.90 H163.1" stroke="#000" stroke-width="1.25" fill="none"/>
<text transform="translate(194.00,301.50) scale(0.990,0.970)" font-size="24.0" text-anchor="end">16</text>
<path d="M207.6,294.50 H263.6 M207.6,292.20 v4.6 M263.6,292.20 v4.6" stroke="#0000ff" stroke-width="0.9" fill="none"/>
<rect x="232.80" y="291.80" width="5.4" height="5.4" fill="#0000ff"/>
<text transform="translate(131.30,322.60) scale(0.970,0.970)" font-size="24.0" text-anchor="start" class="i">L</text>
<path d="M150.8,314.90 H163.1 M150.8,318.00 H163.1" stroke="#000" stroke-width="1.25" fill="none"/>
<text transform="translate(194.00,322.60) scale(0.990,0.970)" font-size="24.0" text-anchor="end">12</text>
<path d="M207.6,315.60 H263.6 M207.6,313.30 v4.6 M263.6,313.30 v4.6" stroke="#006400" stroke-width="0.9" fill="none"/>
<circle cx="235.50" cy="315.60" r="2.5" fill="#006400"/>
<text transform="translate(311.70,376.40) scale(1.380,1.060)" font-size="24.0" text-anchor="start" class="i">m</text>
<path d="M320.3,362.6 L323.5,359.2 L326.8,362.6" stroke="#000" stroke-width="1.25" fill="none"/>
<text transform="translate(335.40,382.60) scale(1.245,1.070)" font-size="18.0" text-anchor="start">s</text>
<path d="M12.4,211.9 V248.6" stroke="#000" stroke-width="1"/>
<path d="M22.6,243.3 L32,248.5 L41.5,243.3" stroke="#000" stroke-width="1" fill="none"/>
<path d="M22.6,217.5 L32,212.2 L41.5,217.5" stroke="#000" stroke-width="1" fill="none"/>
<path d="M19.2,239.2 L15.9,235.8 L19.2,232.4" stroke="#000" stroke-width="1.15" fill="none" stroke-linejoin="miter"/>
<path d="M33.1,205.0 L30.2,202.4 L33.1,199.8" stroke="#000" stroke-width="1.15" fill="none" stroke-linejoin="miter"/>
<path d="M33.3,130.7 L30.5,128.1 L33.3,125.5" stroke="#000" stroke-width="1.15" fill="none" stroke-linejoin="miter"/>
<g transform="rotate(-90)">
<text transform="translate(-241.50,41.20) scale(1.110,1.160)" font-size="24.0" text-anchor="start" class="i">b</text>
<text transform="translate(-227.90,45.30) scale(1.260,1.065)" font-size="17.0" text-anchor="start">s</text>
<text transform="translate(-209.00,45.00) scale(1.420,1.075)" font-size="17.0" text-anchor="start" class="i">m</text>
<text transform="translate(-193.00,45.00) scale(1.166,1.080)" font-size="17.0" text-anchor="start">=0.12,</text>
<text transform="translate(-135.80,45.00) scale(1.420,1.075)" font-size="17.0" text-anchor="start" class="i">m</text>
<text transform="translate(-117.90,50.20) scale(1.330,1.140)" font-size="12.0" text-anchor="start">s</text>
</g>
</svg></body></html>
